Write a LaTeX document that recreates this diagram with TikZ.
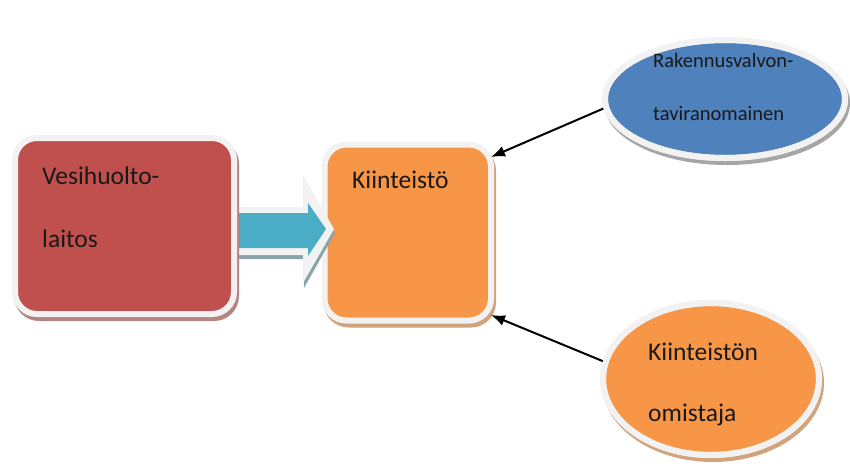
\documentclass[tikz,border=0pt]{standalone}
\usepackage{fontspec}
\setmainfont{Carlito}
\usetikzlibrary{arrows.meta,calc,shapes.geometric}
\definecolor{cred}{HTML}{C0504D}
\definecolor{corange}{HTML}{F79646}
\definecolor{cblue}{HTML}{4F81BD}
\definecolor{cteal}{HTML}{4BACC6}
\definecolor{cframe}{HTML}{F2F2F2}
\definecolor{ctealshadow}{HTML}{8AA4AC}
\tikzset{
  shapebase/.style={draw=cframe, line width=6pt, outer sep=0pt, inner sep=0pt},
  boxshape/.style={shapebase, rectangle, rounded corners=22pt},
  ovalshape/.style={shapebase, ellipse},
  shad/.style={preaction={draw=#1, fill=#1, line width=6pt, transform canvas={xshift=2pt,yshift=-4pt}}},
  lbl/.style={anchor=base west, inner sep=0pt, text=black!90, font=\fontsize{25.5}{30}\selectfont},
  lblsmall/.style={anchor=base west, inner sep=0pt, text=black!90, font=\fontsize{20.5}{24}\selectfont},
  linkarrow/.style={draw=black, line width=2pt, -{Latex[length=14pt,width=11pt]}},
  flowrim/.style={fill=cframe, draw=none},
  flowshadow/.style={fill=ctealshadow, draw=none},
  flowbody/.style={fill=cteal, draw=none}
}
\begin{document}
\begin{tikzpicture}[x=1pt,y=-1pt]
\useasboundingbox (0,0) rectangle (850,469);
% Kiinteistö box
\node[boxshape, fill=corange, shad=corange!60!gray!80, minimum width=166.5pt, minimum height=176pt] (kiin) at (407.75,232.5) {};
\coordinate (redE) at (234,226);
% flow arrow from the red box to the Kiinteistö box
\begin{scope}[shift={(redE)}]
  \path[flowshadow] (-3,-15) -- (70,-15) -- (70,-47) -- (101,7) -- (70,62) -- (70,33) -- (-3,33) -- cycle;
  \path[flowrim] (-3,-19) -- (69,-19) -- (69,-51) -- (100,3) -- (69,57) -- (69,29) -- (-3,29) -- cycle;
  \path[flowbody] (3,-13) -- (74,-13) -- (74,-23) -- (92,3) -- (74,30) -- (74,22) -- (3,22) -- cycle;
\end{scope}
% red box
\node[boxshape, fill=cred, shad=cred!55!gray!80, minimum width=219pt, minimum height=176pt] (red) at (124.5,226) {};
% ellipses
\node[ovalshape, fill=cblue, shad=gray!70, minimum width=240pt, minimum height=118pt] (blue) at (725,99) {};
\node[ovalshape, fill=corange, shad=corange!60!gray!80, minimum width=216pt, minimum height=152pt] (own) at (711,379) {};
% connectors
\draw[linkarrow] (blue.184) -- ([yshift=-12.5pt]kiin.north east);
\draw[linkarrow] (own.171) -- ([yshift=5.5pt]kiin.south east);
% ellipse rims over the line ends
\draw[draw=cframe, line width=6pt] (blue.center) ellipse [x radius=120pt, y radius=59pt];
\draw[draw=cframe, line width=6pt] (own.center) ellipse [x radius=108pt, y radius=76pt];
% labels
\node[lbl] (t1) at (42,184) {Vesihuolto-};
\node[lbl] (t2) at (42,247) {laitos};
\node[lbl] (t3) at (352,188) {Kiinteistö};
\node[lblsmall] (t4) at (653,67) {Rakennusvalvon-};
\node[lblsmall] (t5) at (653,120) {taviranomainen};
\node[lbl] (t6) at (648,360) {Kiinteistön};
\node[lbl] (t7) at (648,421) {omistaja};
\end{tikzpicture}
\end{document}
